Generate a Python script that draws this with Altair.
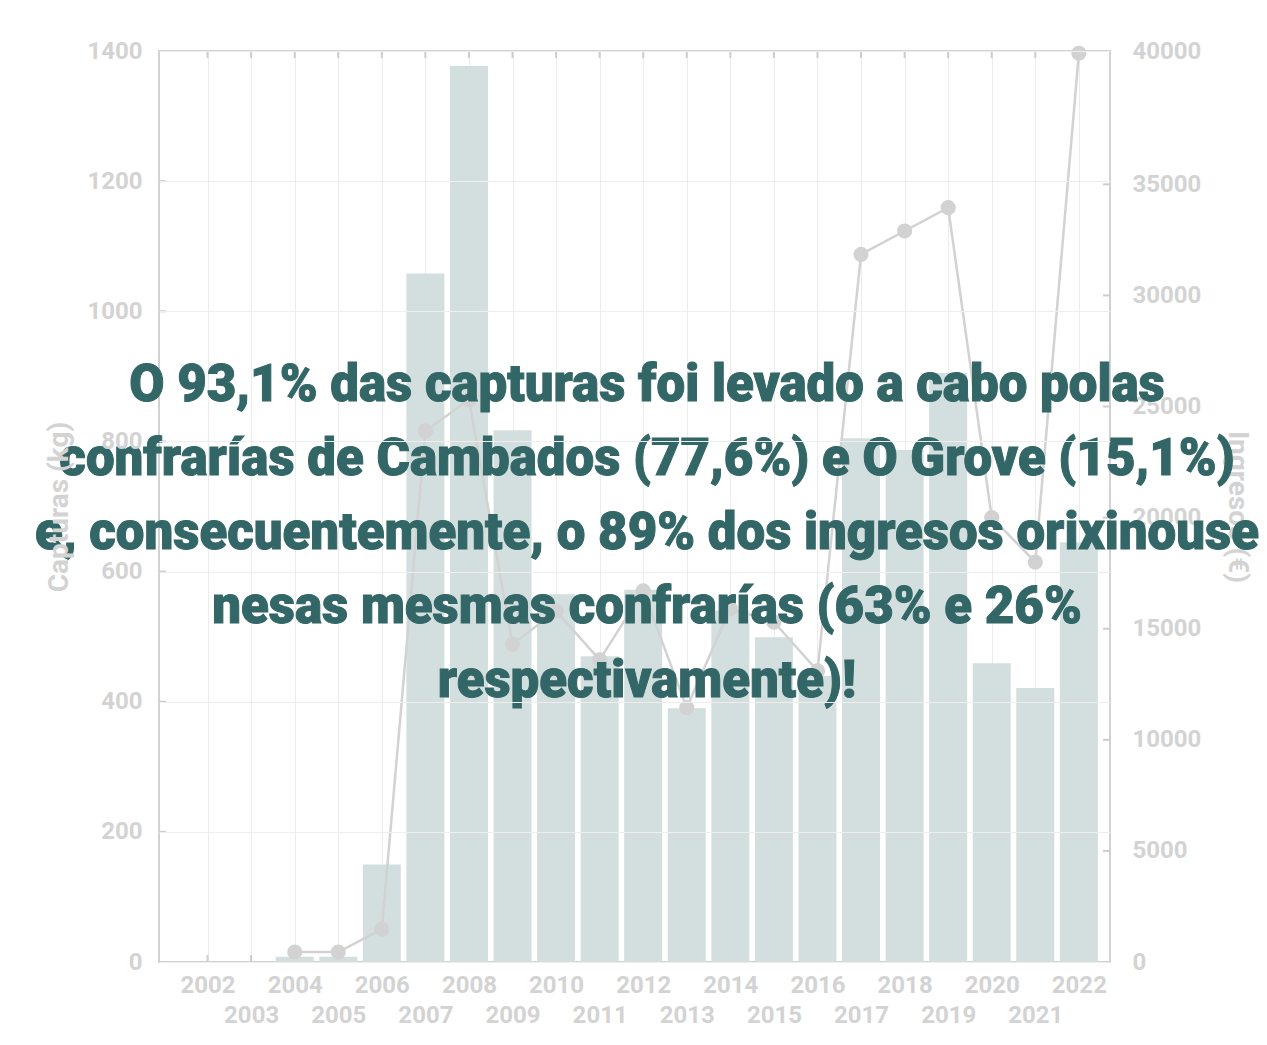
import altair as alt
import pandas as pd

years = list(range(2002, 2023))
capturas_kg = [0, 0, 8, 8, 150, 1058, 1377, 817, 565, 470, 572, 390, 540, 499,
               440, 805, 787, 905, 459, 421, 645]
ingresos_eur = [None, None, 450, 450, 1480, 23900, 25300, 14300, 15800, 13600,
                16700, 11450, 15900, 15300, 13100, 31850, 32900, 33950, 20000,
                18000, 40900]
left_ticks = [0, 200, 400, 600, 800, 1000, 1200, 1400]
right_ticks = [0, 5000, 10000, 15000, 20000, 25000, 30000, 35000]
right_top_tick = 41000
right_top_label = "40000"
overlay_lines = [
    "O 93,1% das capturas foi levado a cabo polas",
    "confrarías de Cambados (77,6%) e O Grove (15,1%)",
    "e, consecuentemente, o 89% dos ingresos orixinouse",
    "nesas mesmas confrarías (63% e 26%",
    "respectivamente)!",
]

df = pd.DataFrame({"Ano": years, "Capturas": capturas_kg, "Ingresos": ingresos_eur})
df_left = pd.DataFrame({"v": left_ticks})
df_right = pd.DataFrame({"v": right_ticks})

FAINT = "#d3d3d3"
TICK = "#cdcdcd"
x_scale = alt.Scale(domain=[2001, 2022.6], nice=False, zero=False)
left_scale = alt.Scale(domain=[0, 1400], nice=False)
right_scale = alt.Scale(domain=[0, right_top_tick], nice=False)

x_enc = alt.X(
    "Ano:Q",
    scale=x_scale,
    axis=alt.Axis(
        values=years, format="d",
        labelExpr="datum.value % 2 == 0 ? datum.label : ['', datum.label]",
        labelLineHeight=30, labelBaseline="top", ticks=False, tickSize=0,
        labelPadding=11, grid=True, gridColor="#ececec", domain=False,
        title=None, labelFlush=False, labelOverlap=False,
    ),
)

# inward tick marks on the four sides of the frame
top_ticks = alt.Chart(df).mark_rule(color=TICK, strokeWidth=2).encode(
    x=x_enc, y=alt.value(0), y2=alt.value(7))
bottom_ticks = alt.Chart(df).mark_rule(color=TICK, strokeWidth=2).encode(
    x=x_enc, y=alt.value(911), y2=alt.value(904))
left_tick_marks = alt.Chart(df_left).mark_rule(color=TICK, strokeWidth=2).encode(
    y=alt.Y("v:Q", scale=left_scale, axis=None), x=alt.value(0), x2=alt.value(7))
right_tick_marks = alt.Chart(df_right).mark_rule(color=TICK, strokeWidth=2).encode(
    y=alt.Y("v:Q", scale=right_scale, axis=None), x=alt.value(951), x2=alt.value(944))

bars = alt.Chart(df).mark_bar(width=38, color="#d3dede").encode(
    x=x_enc,
    y=alt.Y(
        "Capturas:Q",
        scale=left_scale,
        axis=alt.Axis(
            values=left_ticks, format="d", title="Capturas (kg)", grid=True,
            gridColor="#eeeeee", ticks=False, tickSize=0, labelPadding=17,
            domain=False, titlePadding=13, labelFlush=False, zindex=1,
        ),
    ),
)

line = alt.Chart(df).mark_line(
    color="#d2d2d2", strokeWidth=2.5,
    point=alt.OverlayMarkDef(color="#d2d2d2", size=230, filled=True, opacity=1),
).encode(
    x=x_enc,
    y=alt.Y(
        "Ingresos:Q",
        scale=right_scale,
        axis=alt.Axis(
            orient="right", values=right_ticks + [right_top_tick], format="d",
            labelExpr=f"datum.value == {right_top_tick} ? '{right_top_label}' : datum.label",
            title="Ingresos (€)", grid=False, ticks=False, tickSize=0,
            labelPadding=22, domain=False, titlePadding=22, labelFlush=False,
        ),
    ),
)

note = alt.Chart(pd.DataFrame({"k": [0]})).mark_text(
    text=overlay_lines, font="Roboto", fontWeight=900,
    fontSize=51, lineHeight=74, color="#336666", align="center",
    baseline="middle", stroke="#336666", strokeWidth=1,
).encode(x=alt.value(488), y=alt.value(335))

chart = alt.layer(
    top_ticks, bottom_ticks, left_tick_marks, right_tick_marks, bars, line, note
).resolve_scale(y="independent").properties(
    width=951, height=911,
    autosize=alt.AutoSizeParams(type="none"),
    padding={"left": 151, "top": 43, "right": 149, "bottom": 75},
    background="white",
).configure_view(stroke="#d2d2d2", strokeWidth=2).configure_axis(
    labelFont="Roboto", labelFontWeight="bold", labelFontSize=24,
    labelColor=FAINT, titleFont="Roboto", titleFontWeight="bold",
    titleFontSize=28, titleColor=FAINT,
)

chart.save("out.html", embed_options={"renderer": "svg", "actions": False})
